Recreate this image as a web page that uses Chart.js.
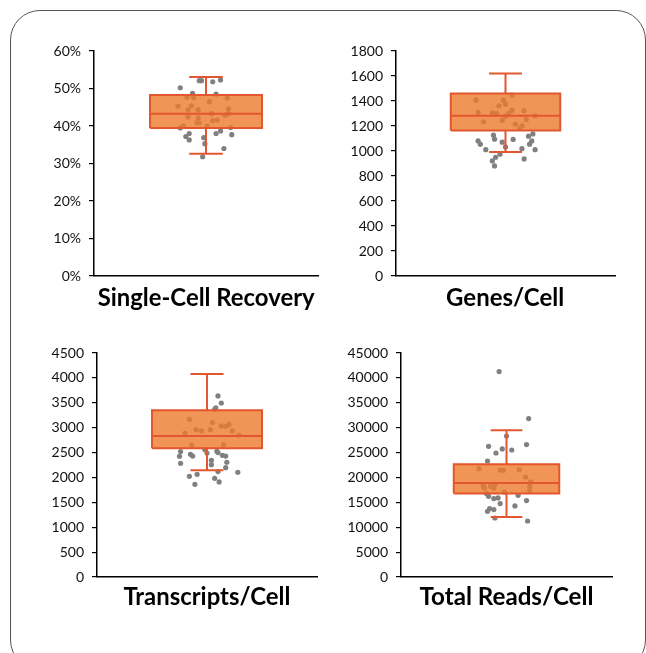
<!DOCTYPE html>
<html>
<head>
<meta charset="utf-8">
<script src="https://cdn.jsdelivr.net/npm/chart.js@4.4.0/dist/chart.umd.min.js"></script>
<style>
  html, body { margin: 0; padding: 0; background: #fff; width: 646px; height: 653px; overflow: hidden; }
  #frame { position: absolute; left: 10px; top: 10px; width: 636px; height: 660px; border: 1px solid #555; border-radius: 30px; box-sizing: border-box; }
  .wrap { position: absolute; }
  .title { position: absolute; font-family: Lato, "DejaVu Sans", sans-serif; font-weight: 700; font-size: 24px; line-height: 29px; color: #000; white-space: nowrap; transform-origin: center center; }
</style>
</head>
<body>
<div id="frame"></div>

<script>
// ---------- DATA ----------
const panelTitles = ["Single-Cell Recovery", "Genes/Cell", "Transcripts/Cell", "Total Reads/Cell"];

// box stats: [whisker low, Q1, median, Q3, whisker high]
const recoveryBox = [32.6, 39.5, 43.3, 48.3, 53.1];
const recoveryY = [50.2, 48.7, 52.1, 52.1, 51.8, 52.3, 48.5, 47.7, 47.6, 46.5, 47.5, 45.3, 45.4, 44.3, 44.3, 44.6, 43.3, 43.3, 42.9, 42.4, 42.2, 41.4, 41.6, 40.9, 40.8, 40.0, 40.0, 39.5, 39.6, 38.7, 38.0, 38.0, 37.7, 37.2, 36.3, 36.9, 35.3, 34.0, 31.8];
const recoveryX = [-0.23, -0.12, -0.06, -0.04, 0.06, 0.13, 0.09, -0.17, -0.11, 0.03, 0.19, -0.25, -0.13, -0.16, -0.07, 0.20, 0.05, 0.20, 0.17, -0.16, -0.07, 0.06, 0.10, -0.08, -0.06, 0.01, -0.20, -0.23, 0.22, 0.13, -0.15, 0.09, 0.23, -0.18, -0.15, -0.02, -0.01, 0.16, -0.03];

const genesBox = [993, 1165, 1282, 1461, 1621];
const genesY = [1407, 1407, 1447, 1362, 1375, 1309, 1306, 1301, 1327, 1301, 1323, 1279, 1282, 1234, 1247, 1253, 1215, 1201, 1180, 1137, 1127, 1119, 1095, 1093, 1081, 1055, 1071, 1081, 1055, 1033, 1011, 1019, 1011, 975, 950, 921, 937, 881];
const genesX = [-0.27, -0.02, 0.06, -0.06, 0.00, -0.25, -0.12, -0.08, 0.06, 0.03, 0.17, 0.00, 0.27, -0.20, -0.03, 0.19, 0.09, 0.15, 0.13, 0.25, -0.11, 0.21, -0.10, 0.07, -0.25, -0.23, -0.03, 0.24, 0.22, 0.00, -0.18, 0.15, 0.27, -0.05, -0.09, -0.12, 0.17, -0.10];

const transcriptsBox = [2143, 2585, 2833, 3349, 4078];
const transcriptsY = [3637, 3496, 3396, 3369, 3168, 3102, 3062, 3028, 3035, 2962, 2934, 2960, 2934, 2887, 2853, 2652, 2659, 2560, 2491, 2519, 2526, 2500, 2425, 2465, 2430, 2445, 2430, 2345, 2305, 2284, 2257, 2197, 2117, 2104, 2063, 2023, 1982, 1909, 1862];
const transcriptsX = [0.10, 0.13, 0.08, 0.07, -0.16, 0.05, 0.20, 0.17, 0.13, -0.10, -0.05, 0.03, 0.23, -0.20, 0.29, -0.14, 0.15, -0.02, 0.00, -0.24, 0.09, 0.10, -0.25, -0.15, -0.13, 0.14, 0.17, 0.04, 0.18, -0.24, 0.04, 0.17, 0.10, 0.28, -0.09, -0.16, 0.07, 0.11, -0.11];

const readsBox = [12054, 16755, 18885, 22640, 29470];
const readsY = [41260, 31820, 28330, 26260, 26600, 25720, 25510, 24910, 23300, 21780, 21500, 21430, 21560, 20090, 19090, 18280, 18240, 18620, 17880, 17880, 17080, 18280, 17420, 16750, 16210, 16410, 15750, 15880, 15350, 14750, 14270, 13740, 13540, 13200, 11850, 11250];
const readsX = [-0.07, 0.21, 0.00, -0.17, 0.19, -0.04, 0.05, -0.10, -0.18, -0.26, -0.06, -0.03, 0.12, 0.18, 0.23, -0.22, -0.15, -0.11, -0.12, -0.21, -0.02, 0.22, 0.22, -0.19, -0.17, 0.11, -0.12, -0.08, 0.19, -0.06, 0.08, -0.16, -0.12, -0.18, -0.11, 0.20];

// y-axis tick settings
const yMax = [60, 1800, 4500, 45000];
const yStep = [10, 200, 500, 5000];
const ySuffix = ["%", "", "", ""];

// ---------- LAYOUT / STYLE ----------
// chart-area rectangles [left, top, right, bottom]
const areas = [[94, 51, 318, 276], [396, 51, 615, 276], [97, 353, 317, 577], [401, 353, 612, 577]];
const titleBase = [306, 306, 605, 605];
const titleWidth = [217, 118, 167, 174];
const AXW = 56, PT = 20, PB = 20, PR = 10;
const HALF = 0.5, CAP = 0.15;
const BOX_FILL = "rgba(238,122,44,0.8)";
const BOX_LINE = "#E2572F";
const PT_COLOR = "#808080";
const FONT = "Lato, 'DejaVu Sans', sans-serif";

const boxes = [recoveryBox, genesBox, transcriptsBox, readsBox];
const ys = [recoveryY, genesY, transcriptsY, readsY];
const xs = [recoveryX, genesX, transcriptsX, readsX];

function build(i) {
  const [L, T, R, B] = areas[i];
  const wrap = document.createElement("div");
  wrap.className = "wrap";
  const left = L - AXW, top = T - PT;
  const w = R + PR - left, h = B + PB - top;
  wrap.style.left = left + "px"; wrap.style.top = top + "px";
  wrap.style.width = w + "px"; wrap.style.height = h + "px";
  const cv = document.createElement("canvas");
  wrap.appendChild(cv);
  document.body.appendChild(wrap);

  const [lo, q1, med, q3, hi] = boxes[i];
  const pts = ys[i].map((v, k) => ({ x: xs[i][k], y: v }));
  const lineDs = (data, extra) => Object.assign({
    data, showLine: true, pointRadius: 0, borderColor: BOX_LINE, borderWidth: 2,
    fill: false, tension: 0, order: 1
  }, extra || {});

  new Chart(cv, {
    type: "scatter",
    data: {
      datasets: [
        // box fill + outline
        lineDs([{x:-HALF,y:q1},{x:-HALF,y:q3},{x:HALF,y:q3},{x:HALF,y:q1},{x:-HALF,y:q1}],
               { fill: "shape", backgroundColor: BOX_FILL, order: 2 }),
        // median
        lineDs([{x:-HALF,y:med},{x:HALF,y:med}]),
        // whiskers
        lineDs([{x:-CAP,y:hi},{x:CAP,y:hi},{x:0,y:null},{x:0,y:hi},{x:0,y:q3},{x:0,y:null},
                {x:0,y:q1},{x:0,y:lo},{x:0,y:null},{x:-CAP,y:lo},{x:CAP,y:lo}], { order: 3 }),
        // points
        { data: pts, pointRadius: 2.6, pointBackgroundColor: PT_COLOR, pointBorderWidth: 0,
          borderColor: PT_COLOR, showLine: false, order: 5 }
      ]
    },
    options: {
      responsive: true, maintainAspectRatio: false, animation: false,
      layout: { padding: { top: PT, bottom: PB, right: PR, left: 0 } },
      plugins: { legend: { display: false }, tooltip: { enabled: false } },
      scales: {
        x: {
          type: "linear", min: -1, max: 1,
          ticks: { display: false },
          grid: { display: false, drawTicks: false },
          border: { display: true, color: "#000", width: 1.5 }
        },
        y: {
          type: "linear", min: 0, max: yMax[i],
          afterFit: (s) => { s.width = AXW; },
          ticks: { stepSize: yStep[i], padding: 8, color: "#111",
                   font: { family: FONT, size: 14 },
                   callback: (v) => v + ySuffix[i] },
          grid: { drawOnChartArea: false, drawTicks: true, tickLength: 5, color: "#000", lineWidth: 1.2 },
          border: { display: true, color: "#000", width: 1.5 }
        }
      }
    }
  });

  // title
  const t = document.createElement("div");
  t.className = "title";
  t.textContent = panelTitles[i];
  document.body.appendChild(t);
  const ctx = document.createElement("canvas").getContext("2d");
  ctx.font = "700 24px " + FONT;
  const mw = ctx.measureText(panelTitles[i]).width;
  const cx = (L + R) / 2;
  t.style.left = (cx - mw / 2) + "px";
  t.style.top = (titleBase[i] - 23.7) + "px";
  t.style.transform = "scaleX(" + (titleWidth[i] / mw) + ")";
}

for (let i = 0; i < 4; i++) build(i);
</script>
</body>
</html>
